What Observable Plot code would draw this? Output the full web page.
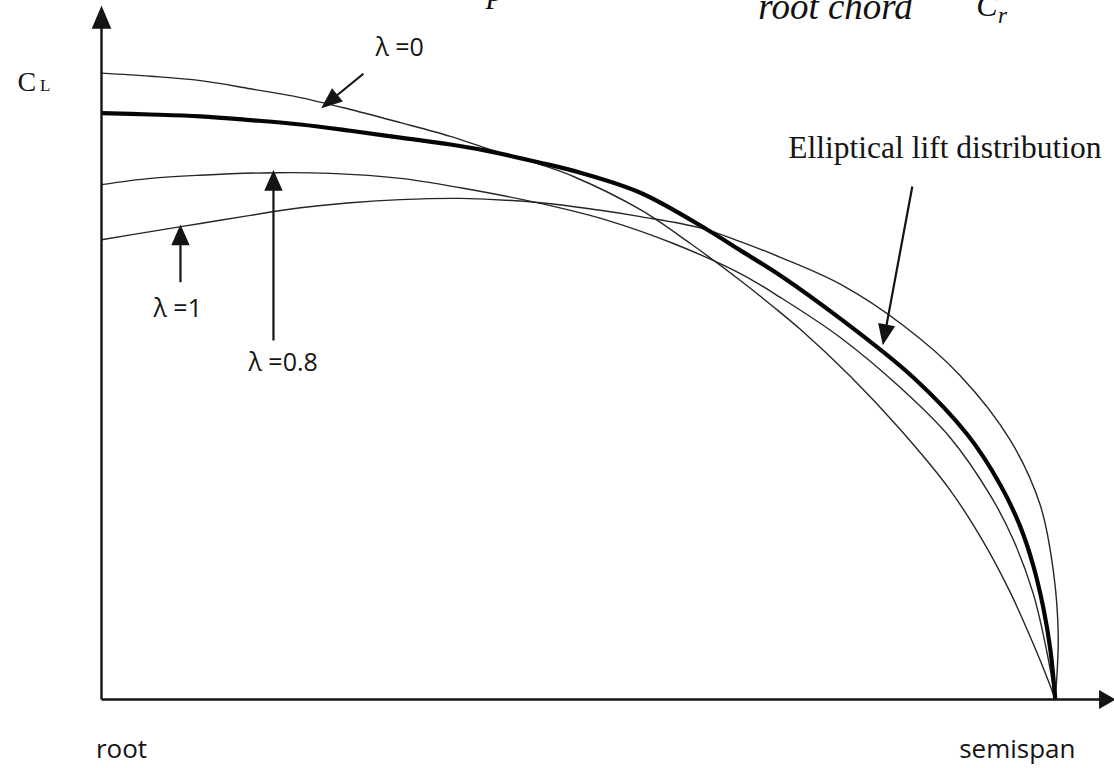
<!DOCTYPE html>
<html>
<head>
<meta charset="utf-8">
<script src="https://cdn.jsdelivr.net/npm/d3@7"></script>
<script src="https://cdn.jsdelivr.net/npm/@observablehq/plot@0.6"></script>
<style>
  html, body { margin: 0; padding: 0; background: #fff; }
  #chart svg { display: block; }
</style>
</head>
<body>
<div id="chart"></div>
<script>
// ---- Data: spanwise position (% of semispan) and relative lift coefficient ----
const spanL0  = [0, 5.14, 10.38, 15.62, 20.86, 26.10, 31.34, 36.58, 40.78, 46.02, 49.48, 56.50, 61.74, 66.98, 70.44, 73.27, 78.51, 83.75, 88.99, 92.45, 95.28, 97.69, 99.27, 100];
const clL0    = [1.000, 0.995, 0.988, 0.975, 0.961, 0.942, 0.921, 0.899, 0.878, 0.854, 0.835, 0.782, 0.728, 0.669, 0.627, 0.591, 0.516, 0.431, 0.334, 0.252, 0.171, 0.089, 0.030, 0];

const spanL08 = [0, 5.14, 10.38, 18.03, 24.00, 31.34, 37.63, 46.02, 53.04, 59.96, 66.98, 71.17, 77.46, 83.75, 88.99, 93.19, 95.60, 97.69, 99.16, 100];
const clL08   = [0.822, 0.832, 0.837, 0.841, 0.840, 0.832, 0.817, 0.792, 0.765, 0.728, 0.680, 0.642, 0.578, 0.498, 0.418, 0.326, 0.255, 0.169, 0.073, 0];

const spanL1  = [0, 5.14, 10.38, 15.62, 20.86, 26.10, 31.34, 37.63, 46.02, 52.31, 56.50, 62.79, 66.98, 71.17, 77.46, 84.07, 90.04, 95.28, 98.43, 99.79, 100.31, 100];
const clL1    = [0.734, 0.747, 0.760, 0.773, 0.785, 0.793, 0.798, 0.800, 0.793, 0.781, 0.771, 0.753, 0.731, 0.706, 0.663, 0.597, 0.517, 0.414, 0.310, 0.206, 0.102, 0];

const spanEll = [0, 5.14, 10.38, 15.62, 20.86, 26.10, 31.34, 36.58, 40.04, 46.02, 50.21, 56.50, 63.52, 66.98, 71.17, 77.46, 85.12, 90.78, 94.23, 96.33, 97.69, 98.74, 99.48, 100];
const clEll   = [0.936, 0.934, 0.931, 0.925, 0.918, 0.908, 0.897, 0.886, 0.877, 0.857, 0.841, 0.809, 0.750, 0.717, 0.677, 0.608, 0.514, 0.423, 0.343, 0.276, 0.214, 0.147, 0.080, 0];

const seriesNames = ["λ=0", "λ=0.8", "λ=1", "Elliptical"];
const seriesSpan  = [spanL0, spanL08, spanL1, spanEll];
const seriesCl    = [clL0, clL08, clL1, clEll];

// ---- Annotation text ----
const sansLabels  = ["λ =0", "λ =1", "λ =0.8"];
const sansLabelX  = [28.72, 5.45, 15.41];
const sansLabelY  = [1.028, 0.611, 0.525];
const ellLabel    = "Elliptical lift distribution";
const axisEndLabels = ["root", "semispan"];
const axisEndX      = [2.10, 96.02];

// ---- Build table ----
const rows = seriesNames.flatMap((name, i) =>
  seriesSpan[i].map((s, j) => ({series: name, span: s, cl: seriesCl[i][j]})));
const thinRows  = rows.filter(d => d.series !== "Elliptical");
const thickRows = rows.filter(d => d.series === "Elliptical");

// ---- Frame ----
const W = 1114, H = 768;
const mL = 101, mR = 2, mT = 10, mB = 69;
const xDomain = [0, 106];
const yDomain = [0, 1.1];
const sx = Plot.scale({x: {domain: xDomain, range: [mL, W - mR]}});
const sy = Plot.scale({y: {domain: yDomain, range: [H - mB, mT]}});

// arrows: tail (x1,y1) -> tip (x2,y2) in data units
const arrows = [
  {x1: 0, y1: 0, x2: 0, y2: 1.103, head: 19, wid: 16, sw: 2.4},          // y axis
  {x1: 0, y1: 0, x2: 106.08, y2: 0, head: 13, wid: 15, sw: 2.4},          // x axis
  {x1: 27.46, y1: 0.999, x2: 23.27, y2: 0.947, head: 17, wid: 14, sw: 2.2}, // λ=0
  {x1: 85.01, y1: 0.819, x2: 81.97, y2: 0.570, head: 17, wid: 14, sw: 2.2}, // elliptical
  {x1: 8.28, y1: 0.666, x2: 8.28, y2: 0.754, head: 17, wid: 15, sw: 2.2},   // λ=1
  {x1: 18.03, y1: 0.573, x2: 18.03, y2: 0.841, head: 17, wid: 15, sw: 2.2}  // λ=0.8
];

function headShape(head, wid) {
  return {
    draw(context, l) {
      context.moveTo(0, 0);
      context.lineTo(0, -l + head * 0.8);
      context.moveTo(0, -l);
      context.lineTo(-wid / 2, -l + head);
      context.lineTo(wid / 2, -l + head);
      context.closePath();
    }
  };
}

function arrowMark(a) {
  const px0 = sx.apply(a.x1), py0 = sy.apply(a.y1);
  const px1 = sx.apply(a.x2), py1 = sy.apply(a.y2);
  const len = Math.hypot(px1 - px0, py1 - py0);
  const rot = Math.atan2(px1 - px0, -(py1 - py0)) * 180 / Math.PI;
  return Plot.vector([a], {
    x: "x2", y: "y2", length: len, rotate: rot, anchor: "end",
    shape: headShape(a.head, a.wid),
    stroke: "#141414", fill: "#141414", strokeWidth: a.sw,
    strokeLinecap: "butt", strokeLinejoin: "miter"
  });
}

const sansFont = "'Open Sans', 'DejaVu Sans', sans-serif";
const serifFont = "'Liberation Serif', 'DejaVu Serif', serif";

const chart = Plot.plot({
  width: W, height: H,
  marginLeft: mL, marginRight: mR, marginTop: mT, marginBottom: mB,
  x: {domain: xDomain, axis: null},
  y: {domain: yDomain, axis: null},
  style: {background: "white"},
  marks: [
    Plot.line(thinRows, {x: "span", y: "cl", z: "series", stroke: "#262626", strokeWidth: 1.4, curve: "catmull-rom"}),
    Plot.line(thickRows, {x: "span", y: "cl", stroke: "#050505", strokeWidth: 4.2, curve: "catmull-rom", strokeLinecap: "butt"}),
    ...arrows.map(arrowMark),
    Plot.text(sansLabels, {x: (d, i) => sansLabelX[i], y: (d, i) => sansLabelY[i], text: d => d,
      textAnchor: "start", lineAnchor: "bottom", fontFamily: sansFont, fontSize: 25, fill: "#151515"}),
    Plot.text([ellLabel], {x: 72.01, y: 0.865, text: d => d, textAnchor: "start", lineAnchor: "bottom",
      fontFamily: serifFont, fontSize: 31.5, fill: "#151515"}),
    Plot.text(["C"], {x: -8.81, y: 0.972, text: d => d, textAnchor: "start", lineAnchor: "bottom",
      fontFamily: serifFont, fontSize: 28, fill: "#151515"}),
    Plot.text(["L"], {x: -6.45, y: 0.971, text: d => d, textAnchor: "start", lineAnchor: "bottom",
      fontFamily: serifFont, fontSize: 17, fill: "#151515"}),
    Plot.text(axisEndLabels, {x: (d, i) => axisEndX[i], y: -0.094, text: d => d, textAnchor: "middle",
      lineAnchor: "bottom", fontFamily: sansFont, fontSize: 26, fill: "#151515"}),
    // cut-off fragments of the formula above the figure
    Plot.text(["root chord"], {x: 68.87, y: 1.0872, text: d => d, textAnchor: "start", lineAnchor: "bottom",
      fontFamily: serifFont, fontStyle: "italic", fontSize: 37, fill: "#111"}),
    Plot.text(["C"], {x: 91.72, y: 1.092, text: d => d, textAnchor: "start", lineAnchor: "bottom",
      fontFamily: serifFont, fontStyle: "italic", fontSize: 32, fill: "#111"}),
    Plot.text(["r"], {x: 94.0, y: 1.080, text: d => d, textAnchor: "start", lineAnchor: "bottom",
      fontFamily: serifFont, fontStyle: "italic", fontSize: 23, fill: "#111"}),
    Plot.text(["p"], {x: 40.46, y: 1.1159, text: d => d, textAnchor: "start", lineAnchor: "bottom",
      fontFamily: serifFont, fontStyle: "italic", fontSize: 35, fill: "#111"})
  ]
});
document.getElementById("chart").append(chart);
</script>
</body>
</html>
